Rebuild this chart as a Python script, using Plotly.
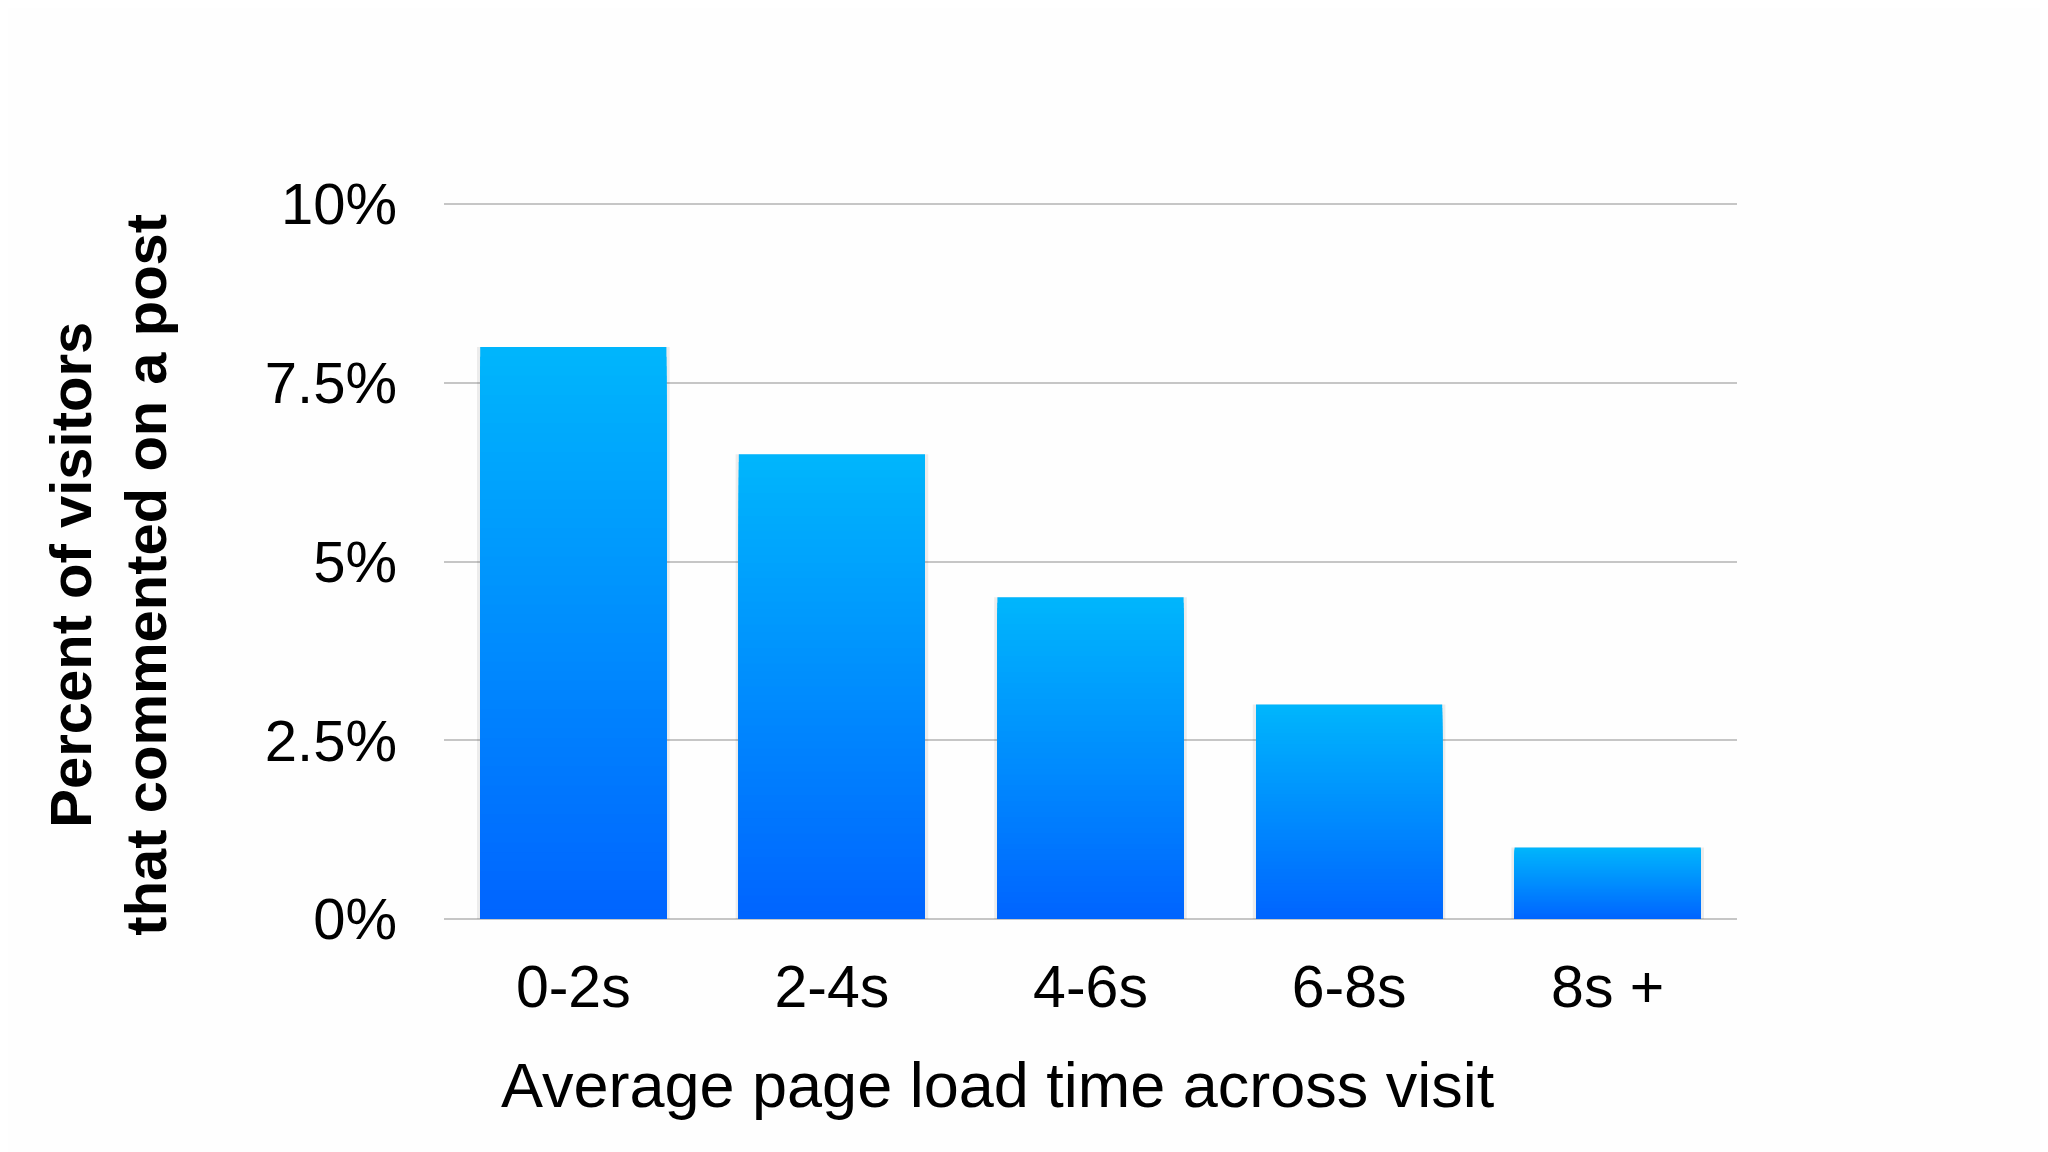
import plotly.graph_objects as go

# data
categories = ["0-2s", "2-4s", "4-6s", "6-8s", "8s +"]
comment_pct = [8.0, 6.5, 4.5, 3.0, 1.0]
y_tickvals = [0, 2.5, 5, 7.5, 10]
y_ticktext = ["0%", "2.5%", "5%", "7.5%", "10%"]

FONT = "Liberation Sans, Arial, Helvetica, sans-serif"
TOP_RGB = (0, 182, 252)
BOTTOM_RGB = (0, 100, 255)
STEPS = 60
BAR_WIDTH = 0.72


def blend(frac):
    """Colour between the top and bottom of the bar gradient."""
    r, g, b = [round(t + (bo - t) * frac) for t, bo in zip(TOP_RGB, BOTTOM_RGB)]
    return f"rgb({r},{g},{b})"


fig = go.Figure()

# faint shadow behind each bar
fig.add_trace(go.Bar(
    x=categories, y=comment_pct, width=BAR_WIDTH + 0.025,
    marker=dict(color="rgba(0,0,0,0.07)", line=dict(width=0)),
    hoverinfo="skip", showlegend=False,
))

# vertical gradient: overlaid bars, each shorter one painted on top
for k in range(STEPS):
    heights = [v * (STEPS - k) / STEPS for v in comment_pct]
    fig.add_trace(go.Bar(
        x=categories, y=heights, width=BAR_WIDTH,
        marker=dict(color=blend((k + 0.5) / STEPS), line=dict(width=0)),
        hoverinfo="skip", showlegend=False,
    ))

fig.update_layout(
    width=2048, height=1152,
    barmode="overlay",
    paper_bgcolor="#fefefe", plot_bgcolor="#fefefe",
    margin=dict(l=436, r=319, t=194, b=241),
    font=dict(family=FONT, color="#000000"),
    xaxis=dict(
        type="category", range=[-0.5, 4.5],
        showgrid=False, zeroline=False, showline=False, ticks="",
        tickfont=dict(size=59), ticklabelstandoff=28,
    ),
    yaxis=dict(
        range=[0, 10.03], tickvals=y_tickvals, ticktext=y_ticktext,
        showgrid=True, gridcolor="#c6c6c6", gridwidth=1.6,
        zeroline=True, zerolinecolor="#c6c6c6", zerolinewidth=1.6,
        showline=False, ticks="",
        tickfont=dict(size=58), ticklabelstandoff=46,
    ),
    annotations=[
        dict(
            text="Average page load time across visit",
            xref="paper", yref="paper", x=0.4285, y=-0.232,
            xanchor="center", yanchor="middle", showarrow=False,
            font=dict(size=63, family=FONT),
        ),
        dict(
            text="<b>Percent of visitors<br>that commented on a post</b>",
            xref="paper", yref="paper", x=-0.26, y=0.48,
            xanchor="center", yanchor="middle", showarrow=False,
            textangle=-90, font=dict(size=58, family=FONT),
        ),
    ],
)

fig.write_html("out.html")
